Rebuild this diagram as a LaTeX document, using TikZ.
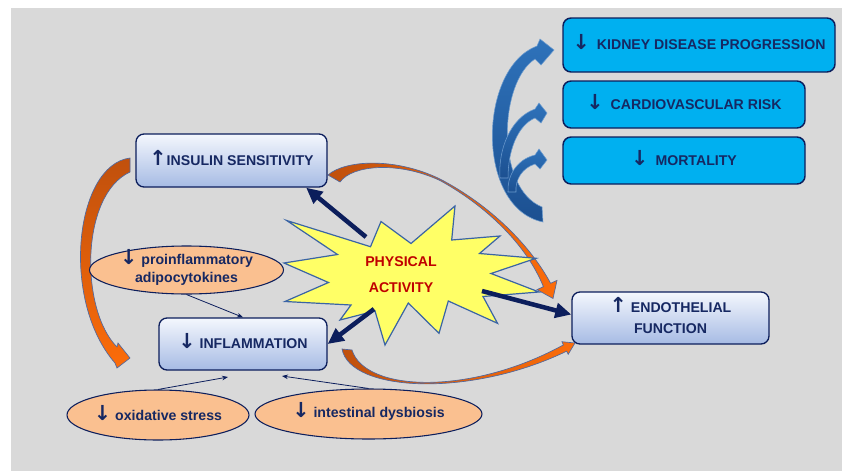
\documentclass[tikz,border=0pt]{standalone}
\usepackage{fontspec}
\setmainfont{Liberation Sans}
\newfontfamily\arrowfont{DejaVu Sans}
\usetikzlibrary{arrows.meta,shapes.geometric}

\newcommand{\arrup}{\smash{\arrowfont\bfseries\fontsize{15.5}{13}\selectfont ↑}}
\newcommand{\arrdown}{\smash{\arrowfont\bfseries\fontsize{15.5}{13}\selectfont ↓}}

\definecolor{bg}{RGB}{217,217,217}
\definecolor{navy}{RGB}{12,30,92}
\definecolor{textnavy}{RGB}{22,40,98}
\definecolor{cyanfill}{RGB}{0,176,240}
\definecolor{boxtop}{RGB}{244,247,253}
\definecolor{boxbot}{RGB}{166,187,228}
\definecolor{peach}{RGB}{250,192,144}
\definecolor{staryellow}{RGB}{255,255,102}
\definecolor{starline}{RGB}{58,100,165}
\definecolor{redtext}{RGB}{192,0,0}
\definecolor{orangedark}{RGB}{192,80,12}
\definecolor{orangebright}{RGB}{252,108,10}
\definecolor{orangeline}{RGB}{80,105,160}
\definecolor{bluelight}{RGB}{46,114,186}
\definecolor{bluedark}{RGB}{28,80,145}

\begin{document}
\begin{tikzpicture}[x=0.75pt,y=-0.75pt,
  lbl/.style={font=\bfseries\fontsize{10.6}{13}\selectfont, text=textnavy},
  gradbox/.style={lbl, draw=navy, line width=1pt, rounded corners=6pt,
    top color=boxtop, bottom color=boxbot, align=center, inner sep=0pt},
  outcome/.style={lbl, draw=navy, line width=1.1pt, rounded corners=6pt,
    fill=cyanfill, inner sep=0pt},
  factor/.style={lbl, ellipse, draw=navy, line width=0.8pt, fill=peach,
    align=center, inner sep=0pt},
  heavyarrow/.style={draw=navy, line width=3.4pt, -{Triangle[length=12pt,width=11pt]}},
  lightarrow/.style={draw=navy, line width=0.6pt, -{Stealth[length=4.5pt,width=3.5pt]}},
  orangeband/.style={draw=orangeline, line width=0.5pt},
  blueband/.style={draw=bluelight!70!white, line width=0.4pt,
    top color=bluelight, bottom color=bluedark},
]
% canvas
\fill[white] (0,0) rectangle (842,471);
\fill[bg] (11,8) rectangle (842,471);
\useasboundingbox (0,0) rectangle (842,471);

% curved blue arrows towards the outcome boxes
\path[blueband] (543,222) .. controls (475,208) and (478,68) .. (537,46)
  -- (540,39) -- (554,50) -- (541,65) -- (535,59)
  .. controls (499,82) and (495,188) .. (542,207) -- cycle;
\path[blueband] (500,178) .. controls (498,150) and (510,118) .. (535,109)
  -- (539,103) -- (547,113) -- (541,123) -- (535,118)
  .. controls (518,125) and (508,150) .. (508,178) -- cycle;
\path[blueband] (508,192) .. controls (507,178) and (515,160) .. (535,155)
  -- (539,149) -- (547,160) -- (540,169) -- (535,164)
  .. controls (522,168) and (515,180) .. (516,192) -- cycle;

% curved orange arrows
\path[orangeband, top color=orangedark, bottom color=orangebright]
  (130,158) .. controls (75,165) and (60,300) .. (115,363)
  -- (117,368) -- (130,358) -- (118,343) -- (117,347)
  .. controls (80,310) and (80,195) .. (130,172) -- cycle;
\path[orangeband, left color=orangedark, right color=orangebright]
  (328,175) .. controls (345,160) and (395,157) .. (440,179)
  .. controls (490,205) and (530,245) .. (550.6,283.3)
  -- (557,280.4) -- (553,298.5) -- (537,289.6) -- (543.4,286.7)
  .. controls (527,246) and (488,207) .. (440,180.5)
  .. controls (398,161) and (352,165) .. (340,182) -- cycle;
\path[orangeband, left color=orangedark, right color=orangebright]
  (342,349) .. controls (350,392) and (470,398) .. (566.6,351.2)
  -- (568.2,354.3) -- (575,343) -- (561.9,341.7) -- (563.4,344.9)
  .. controls (470,396) and (365,392) .. (352,350) -- cycle;

% central star
\path[draw=starline, line width=0.9pt, fill=staryellow]
  (286.7,220.5) -- (370.5,246.7) -- (381,221.5) -- (411,243.5) -- (455,206)
  -- (451.7,240) -- (500,236) -- (479.5,253.5) -- (536,258.3) -- (491,273.5)
  -- (539,292) -- (483,296.5) -- (497.5,323.3) -- (448.3,301) -- (439,333.3)
  -- (408.3,303) -- (385,345) -- (375,311) -- (340,320) -- (351,305)
  -- (285,301.5) -- (328.5,282.5) -- (284,263) -- (337.5,254.5) -- cycle;
\node[font=\bfseries\fontsize{10.6}{13}\selectfont, text=redtext, align=center]
  (pa) at (401,274.5) {PHYSICAL\\[6.5pt]ACTIVITY};

% boxes
\node[gradbox, minimum width=143.25pt, minimum height=39.75pt] (ins) at (231.5,160.5)
  {\arrup INSULIN SENSITIVITY};
\node[gradbox, minimum width=126pt, minimum height=39pt] (infl) at (243,344)
  {\arrdown\ INFLAMMATION};
\node[gradbox, minimum width=147.75pt, minimum height=39pt] (endo) at (670.5,318)
  {\arrup\ ENDOTHELIAL\\[2.8pt]FUNCTION};
\node[outcome, minimum width=204pt, minimum height=40.5pt] (kid) at (699,45)
  {\arrdown\hspace{0.5em}KIDNEY DISEASE PROGRESSION};
\node[outcome, minimum width=181.5pt, minimum height=35.25pt] (cvr) at (684,104.5)
  {\arrdown\hspace{0.5em}CARDIOVASCULAR RISK};
\node[outcome, minimum width=181.5pt, minimum height=35.25pt] (mort) at (684,160.5)
  {\arrdown\hspace{0.5em}MORTALITY};

% contributing factors
\node[factor, minimum width=145.5pt, minimum height=36pt] (pro) at (186.5,270)
  {\arrdown\ proinflammatory\\[0.7pt]adipocytokines};
\node[factor, minimum width=136.5pt, minimum height=37.5pt] (ox) at (158,415)
  {\arrdown\ oxidative stress};
\node[factor, minimum width=170.25pt, minimum height=37.5pt] (dys) at (368.5,414)
  {\arrdown\ intestinal dysbiosis};

% arrows leaving the star
\coordinate (s1) at (366,237);
\coordinate (s2) at (374,309);
\coordinate (s3) at (482,291);
\draw[heavyarrow] (s1) -- (ins.-20.5);
\draw[heavyarrow] (s2) -- (infl.east);
\draw[heavyarrow] (s3) -- (endo.178);

% thin arrows into inflammation
\coordinate (oxend) at (228,377);
\coordinate (dysend) at (282,376);
\draw[lightarrow] (pro.south) -- (infl.north);
\draw[lightarrow] (ox.north) -- (oxend);
\draw[lightarrow] (dys.north) -- (dysend);
\end{tikzpicture}
\end{document}
